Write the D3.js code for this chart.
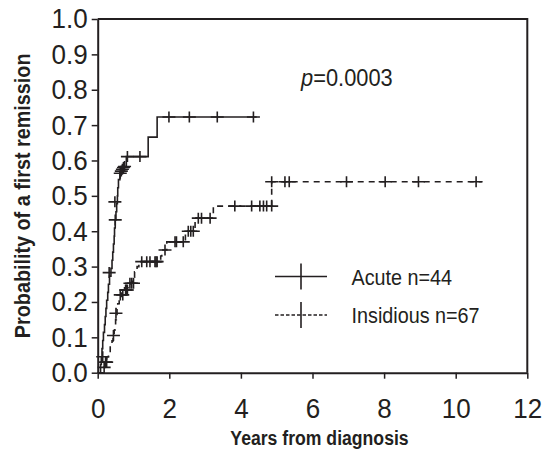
<!DOCTYPE html>
<html>
<head>
<meta charset="utf-8">
<script src="https://cdn.jsdelivr.net/npm/d3@7"></script>
<style>
  body { margin: 0; background: #fff; }
  text { font-family: "Liberation Sans", Arial, sans-serif; fill: #231f20; }
</style>
</head>
<body>
<script>
// step curves: time (years) where the cumulative probability jumps, and the new value
const acuteTimes = [0.08, 0.10, 0.12, 0.14, 0.16, 0.19, 0.21, 0.23, 0.25, 0.28, 0.30, 0.33, 0.37, 0.40, 0.42, 0.44, 0.46, 0.47, 0.49, 0.51, 0.53, 0.55, 0.56, 0.58, 0.62, 0.68, 0.80, 1.41, 1.66];
const acuteProbs = [0.023, 0.045, 0.068, 0.091, 0.114, 0.136, 0.159, 0.182, 0.205, 0.227, 0.25, 0.273, 0.295, 0.318, 0.341, 0.364, 0.386, 0.409, 0.432, 0.455, 0.478, 0.50, 0.523, 0.546, 0.568, 0.583, 0.611, 0.666, 0.723];
const acuteEnd = 4.44;
const acuteCensorT = [0.14, 0.32, 0.49, 0.48, 0.63, 0.66, 0.69, 0.72, 0.75, 0.83, 1.18, 1.99, 2.56, 3.34, 4.35];
const acuteCensorP = [0.045, 0.283, 0.432, 0.483, 0.564, 0.570, 0.575, 0.580, 0.583, 0.611, 0.611, 0.723, 0.723, 0.723, 0.723];

const insidTimes = [0.17, 0.20, 0.25, 0.30, 0.35, 0.40, 0.43, 0.46, 0.48, 0.50, 0.52, 0.54, 0.56, 0.60, 0.66, 0.75, 0.92, 0.97, 1.03, 1.10, 1.15, 1.76, 1.79, 1.93, 2.45, 2.72, 3.23, 4.86];
const insidProbs = [0.015, 0.03, 0.045, 0.06, 0.075, 0.09, 0.105, 0.12, 0.135, 0.15, 0.165, 0.18, 0.195, 0.21, 0.225, 0.24, 0.255, 0.27, 0.285, 0.30, 0.314, 0.33, 0.347, 0.37, 0.40, 0.437, 0.471, 0.54];
const insidEnd = 10.73;
const insidCensorT = [0.18, 0.22, 0.25, 0.44, 0.51, 0.63, 0.70, 0.78, 0.80, 0.83, 0.90, 0.95, 1.00, 1.23, 1.37, 1.46, 1.60, 1.63, 1.66, 1.88, 2.16, 2.20, 2.39, 2.53, 2.60, 2.67, 2.81, 2.90, 3.14, 3.83, 4.30, 4.53, 4.63, 4.72, 4.86, 4.86, 5.23, 5.35, 6.95, 8.03, 8.96, 10.57];
const insidCensorP = [0.015, 0.03, 0.03, 0.105, 0.168, 0.22, 0.22, 0.234, 0.234, 0.234, 0.253, 0.253, 0.253, 0.314, 0.314, 0.314, 0.314, 0.314, 0.314, 0.347, 0.37, 0.37, 0.37, 0.40, 0.40, 0.40, 0.437, 0.437, 0.437, 0.471, 0.471, 0.471, 0.471, 0.471, 0.471, 0.54, 0.54, 0.54, 0.54, 0.54, 0.54, 0.54];

const xTicks = [0, 2, 4, 6, 8, 10, 12];
const yTicks = [0, 0.1, 0.2, 0.3, 0.4, 0.5, 0.6, 0.7, 0.8, 0.9, 1.0];
const groupLabels = ["Acute n=44", "Insidious n=67"];
const pText = "0.0003";

const width = 549, height = 450;
const x = d3.scaleLinear().domain([0, 12]).range([97.7, 527.3]);
const y = d3.scaleLinear().domain([0, 1]).range([372.7, 19]);
const ink = "#231f20";
const squeeze = 0.93; // the original type is a condensed face

const svg = d3.select("body").append("svg")
  .attr("width", width)
  .attr("height", height);

// axes
const yAxis = svg.append("g")
  .attr("transform", `translate(${x(0)},0)`)
  .call(d3.axisLeft(y).tickValues(yTicks).tickFormat(d3.format(".1f")).tickSize(6).tickSizeOuter(0));
const xAxis = svg.append("g")
  .attr("transform", `translate(0,${y(0)})`)
  .call(d3.axisBottom(x).tickValues(xTicks).tickFormat(d3.format("d")).tickSize(6).tickSizeOuter(0));
[yAxis, xAxis].forEach(g => {
  g.select(".domain").attr("stroke", ink).attr("stroke-width", 2);
  g.selectAll(".tick line").attr("stroke", ink).attr("stroke-width", 1.5);
  g.selectAll(".tick text")
    .attr("font-size", 28)
    .attr("font-family", "Liberation Sans, Arial, sans-serif")
    .attr("fill", ink)
    .attr("transform", `scale(${squeeze},1)`);
});
yAxis.selectAll(".tick text").attr("x", -10 / squeeze);
xAxis.selectAll(".tick text").attr("y", 25);

// top and right edge of the frame
svg.append("path")
  .attr("d", `M${x(0)},${y(1)}H${x(12)}V${y(0)}`)
  .attr("fill", "none")
  .attr("stroke", ink)
  .attr("stroke-width", 2);

// axis titles
svg.append("text")
  .attr("transform", `translate(30,${(y(0) + y(1)) / 2}) rotate(-90) scale(0.9,1)`)
  .attr("text-anchor", "middle")
  .attr("font-weight", "bold")
  .attr("font-size", 22)
  .text("Probability of a first remission");

svg.append("text")
  .attr("transform", `translate(${(x(0) + x(12)) / 2 + 7},445) scale(0.84,1)`)
  .attr("text-anchor", "middle")
  .attr("font-weight", "bold")
  .attr("font-size", 21)
  .text("Years from diagnosis");

// curves
function stepPoints(times, probs, end) {
  const pts = [[0, 0]];
  times.forEach((t, i) => pts.push([t, probs[i]]));
  pts.push([end, probs[probs.length - 1]]);
  return pts;
}
const line = d3.line()
  .x(d => x(d[0]))
  .y(d => y(d[1]))
  .curve(d3.curveStepAfter);

svg.append("path")
  .attr("d", line(stepPoints(acuteTimes, acuteProbs, acuteEnd)))
  .attr("fill", "none")
  .attr("stroke", ink)
  .attr("stroke-width", 1.6);

svg.append("path")
  .attr("d", line(stepPoints(insidTimes, insidProbs, insidEnd)))
  .attr("fill", "none")
  .attr("stroke", ink)
  .attr("stroke-width", 1.6)
  .attr("stroke-dasharray", "6,5");

// censor marks (+)
const plus = (cx, cy, w, h) => `M${cx - w},${cy}H${cx + w}M${cx},${cy - h}V${cy + h}`;
function drawCensors(ts, ps) {
  svg.append("g").selectAll("path")
    .data(ts.map((t, i) => [t, ps[i]]))
    .join("path")
    .attr("d", d => plus(x(d[0]), y(d[1]), 6.5, 5.5))
    .attr("fill", "none")
    .attr("stroke", ink)
    .attr("stroke-width", 1.6);
}
drawCensors(acuteCensorT, acuteCensorP);
drawCensors(insidCensorT, insidCensorP);

// p value
svg.append("text")
  .attr("transform", "translate(301,86) scale(0.95,1)")
  .attr("font-size", 23)
  .call(t => {
    t.append("tspan").attr("font-style", "italic").text("p");
    t.append("tspan").text("=" + pText);
  });

// legend
const legend = svg.append("g");
groupLabels.forEach((label, i) => {
  const ly = 276.5 + i * 38.5;
  legend.append("path")
    .attr("d", `M275,${ly}H327`)
    .attr("stroke", ink)
    .attr("stroke-width", 1.6)
    .attr("stroke-dasharray", i === 1 ? "3.5,2" : null);
  legend.append("path")
    .attr("d", `M301,${ly - 13}V${ly + 13}`)
    .attr("stroke", ink)
    .attr("stroke-width", 1.6);
  legend.append("text")
    .attr("transform", `translate(351.5,${ly + 8}) scale(0.9,1)`)
    .attr("font-size", 22)
    .text(label);
});
</script>
</body>
</html>
